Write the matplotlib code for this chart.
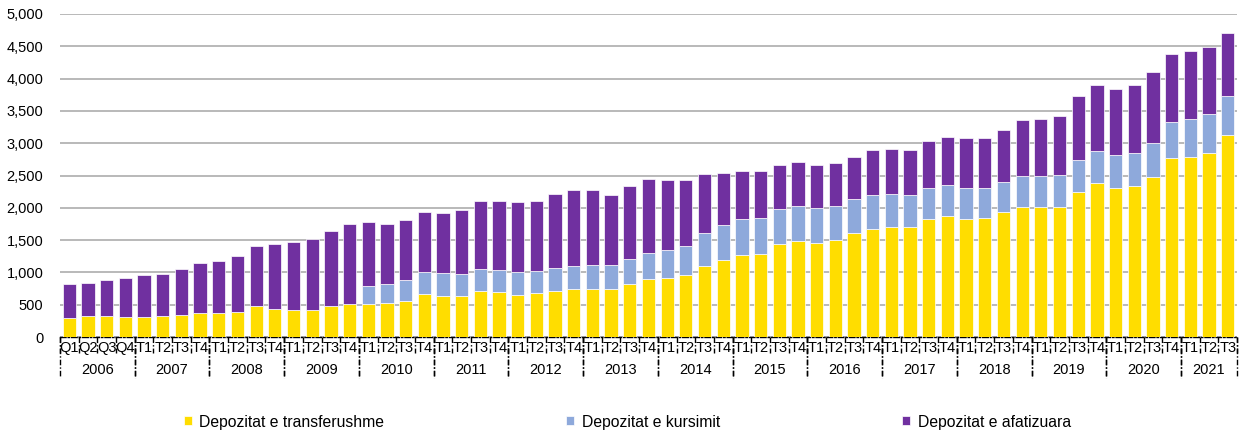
import matplotlib
matplotlib.use("Agg")
import matplotlib.pyplot as plt
import numpy as np

plt.rcParams["font.family"] = ["Liberation Sans", "DejaVu Sans"]

years = ["2006", "2007", "2008", "2009", "2010", "2011", "2012", "2013",
         "2014", "2015", "2016", "2017", "2018", "2019", "2020", "2021"]
quarters = (["Q1", "Q2", "Q3", "Q4"] + ["T1", "T2", "T3", "T4"] * 14 + ["T1", "T2", "T3"])

transferushme = [300, 320, 320, 304, 314, 325, 335, 376, 366, 392, 474, 428, 412, 418, 485, 515,
                 505, 526, 552, 668, 639, 634, 716, 696, 655, 686, 716, 747, 747, 742, 825, 897,
                 907, 954, 1093, 1196, 1268, 1289, 1433, 1479, 1448, 1500, 1613, 1675, 1696, 1696,
                 1820, 1866, 1830, 1840, 1928, 2015, 2010, 2010, 2247, 2381, 2314, 2345, 2479,
                 2773, 2794, 2856, 3134]
kursimit = [0, 0, 0, 0, 0, 0, 0, 0, 0, 0, 0, 0, 0, 0, 0, 0,
            279, 299, 324, 342, 351, 345, 341, 345, 350, 340, 351, 356, 366, 371, 381, 407,
            438, 458, 515, 536, 557, 556, 552, 552, 547, 531, 521, 521, 510, 500,
            484, 485, 479, 474, 464, 475, 485, 495, 495, 500, 506, 511, 531,
            557, 582, 598, 603]
afatizuara = [520, 515, 561, 614, 650, 654, 722, 768, 814, 866, 928, 1015, 1057, 1097, 1159, 1227,
              989, 922, 928, 923, 928, 980, 1041, 1062, 1083, 1082, 1139, 1175, 1155, 1088, 1139, 1144,
              1088, 1011, 913, 804, 747, 727, 675, 675, 670, 660, 655, 701, 706, 691,
              737, 747, 768, 774, 814, 871, 886, 923, 995, 1026, 1025, 1046, 1093,
              1057, 1057, 1036, 964]

labels = ["Depozitat e transferushme", "Depozitat e kursimit", "Depozitat e afatizuara"]
colors = ["#FFDD00", "#8EA9DB", "#7030A0"]

fig = plt.figure(figsize=(12.44, 4.32), dpi=100)
ax = fig.add_axes([0.0482, 0.2199, 0.9462, 0.7477])

x = np.arange(len(quarters))
bottom = np.zeros(len(x))
handles = []
for vals, color, label in zip([transferushme, kursimit, afatizuara], colors, labels):
    b = ax.bar(x, vals, 0.71, bottom=bottom, color=color, edgecolor="white",
               linewidth=0.5, label=label, zorder=3)
    handles.append(b)
    bottom += np.array(vals)

ax.set_xlim(-0.5, len(x) - 0.5)
ax.set_ylim(0, 5000)
ax.set_yticks(np.arange(0, 5001, 500))
ax.set_yticklabels([f"{v:,}" for v in range(0, 5001, 500)], fontsize=10.5)
ax.tick_params(axis="y", length=0, pad=12)
ax.grid(axis="y", color="#A6A6A6", linewidth=1.1, zorder=0)
ax.set_xticks([])
for side in ["left", "right", "top"]:
    ax.spines[side].set_visible(False)
ax.spines["bottom"].set_linestyle((0, (4, 1.5, 1, 1.5)))
ax.spines["bottom"].set_color("black")
ax.spines["bottom"].set_linewidth(1)

# two-level category axis
trans = ax.get_xaxis_transform()
for i, q in enumerate(quarters):
    ax.text(i, -0.034, q, transform=trans, ha="center", va="center", fontsize=10.5, clip_on=False)
for i in range(len(x) + 1):
    ax.plot([i - 0.5, i - 0.5], [0, -0.05], transform=trans, color="black", linewidth=1,
            linestyle=(0, (4, 1.5, 1, 1.5)), clip_on=False)

start = 0
for yr in years:
    n = quarters[start:].index("T1", 1) if "T1" in quarters[start + 1:] else len(quarters) - start
    ax.text(start + (n - 1) / 2, -0.102, yr, transform=trans, ha="center", va="center",
            fontsize=10.5, clip_on=False)
    for edge in (start - 0.5, start + n - 0.5):
        ax.plot([edge, edge], [0, -0.128], transform=trans, color="black", linewidth=1,
                linestyle=(0, (4, 1.5, 1, 1.5)), clip_on=False)
    start += n

fig.legend(handles=handles, labels=labels, loc="center", bbox_to_anchor=(0.5044, 1 - 422 / 432),
           ncol=3, frameon=False, fontsize=11.3, handlelength=0.5, handleheight=0.5,
           handletextpad=0.5, columnspacing=11.6)

fig.savefig("out.png", dpi=100)
